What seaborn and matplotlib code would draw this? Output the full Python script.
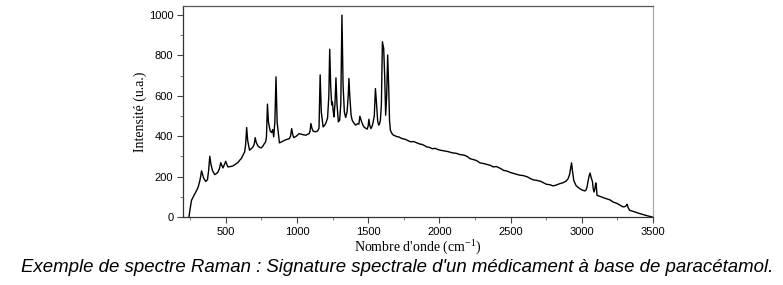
import matplotlib
matplotlib.use("Agg")
import matplotlib.pyplot as plt
from matplotlib.ticker import MultipleLocator
import seaborn as sns
import pandas as pd

# Raman spectrum: (wavenumber cm-1, intensity a.u.)
spectrum_low = [(242, 0), (250, 40), (260, 83), (272, 100), (284, 116), (296, 132), (307, 149),
                (319, 182), (325, 205), (330, 228), (336, 215), (345, 192), (360, 176), (372, 185),
                (380, 230), (388, 301), (396, 262), (408, 228), (423, 210), (435, 215), (446, 223),
                (456, 240), (465, 269), (473, 255), (481, 243), (490, 258), (500, 276), (508, 260),
                (516, 248), (535, 250), (551, 253), (562, 258), (574, 264), (586, 270), (598, 281),
                (610, 290), (621, 306), (633, 322), (640, 360), (647, 443), (654, 380), (667, 331),
                (680, 338), (691, 347), (700, 360), (707, 393), (715, 368), (726, 352), (738, 345),
                (749, 342), (760, 350), (772, 364), (780, 372), (786, 395), (793, 559), (800, 470),
                (812, 426), (822, 418), (830, 433), (837, 397), (845, 470), (853, 694), (861, 470),
                (877, 367), (900, 375), (923, 383), (935, 385), (946, 388), (955, 400), (963, 438),
                (970, 410), (977, 393), (995, 400), (1016, 413), (1040, 408), (1063, 405),
                (1075, 410), (1086, 413), (1092, 425), (1098, 463), (1105, 440), (1114, 425),
                (1130, 422), (1144, 425), (1155, 440)]
spectrum_fingerprint = [(1163, 704), (1171, 520), (1184, 446), (1195, 455), (1202, 463), (1215, 490),
                        (1224, 600), (1230, 831), (1237, 650), (1244, 555), (1249, 570), (1254, 530),
                        (1260, 496), (1267, 560), (1274, 689), (1281, 560), (1291, 471), (1300, 480),
                        (1308, 560), (1316, 1000), (1324, 650), (1333, 520), (1342, 493), (1352, 520),
                        (1360, 600), (1365, 686), (1371, 600), (1380, 505), (1388, 479), (1400, 465),
                        (1412, 455), (1425, 462), (1435, 460), (1442, 499), (1450, 480), (1460, 460),
                        (1470, 446), (1482, 440), (1493, 435), (1500, 450), (1505, 484), (1511, 455),
                        (1519, 438), (1527, 448), (1533, 463), (1543, 500), (1551, 636), (1559, 560),
                        (1567, 475), (1574, 455), (1580, 462), (1586, 479), (1593, 560), (1600, 868),
                        (1605, 850), (1609, 835), (1616, 700), (1623, 504), (1630, 600), (1637, 802),
                        (1644, 650), (1650, 480), (1656, 430), (1667, 413)]
spectrum_high = [(1678, 405), (1690, 402), (1700, 398), (1714, 397), (1724, 393), (1740, 388),
                 (1760, 385), (1780, 378), (1800, 372), (1818, 374), (1840, 368), (1860, 362),
                 (1880, 359), (1900, 352), (1911, 347), (1930, 345), (1950, 338), (1970, 340),
                 (1990, 334), (2005, 331), (2030, 328), (2060, 324), (2090, 318), (2120, 315),
                 (2145, 309), (2170, 307), (2195, 300), (2215, 289), (2240, 284), (2260, 280),
                 (2285, 268), (2310, 265), (2340, 259), (2360, 255), (2378, 248), (2400, 250),
                 (2430, 240), (2450, 231), (2472, 228), (2500, 220), (2530, 214), (2565, 207),
                 (2590, 205), (2620, 198), (2640, 190), (2659, 184), (2680, 182), (2710, 177),
                 (2730, 170), (2752, 162), (2775, 160), (2799, 154), (2820, 158), (2845, 165),
                 (2869, 170), (2890, 178), (2904, 190), (2914, 210), (2922, 245), (2928, 268),
                 (2934, 230), (2944, 180), (2960, 155), (2986, 140), (3005, 133), (3021, 129),
                 (3030, 134), (3037, 149), (3046, 185), (3052, 205), (3058, 218), (3064, 200),
                 (3075, 174), (3080, 140), (3086, 124), (3092, 140), (3098, 169), (3102, 150),
                 (3107, 107), (3125, 103), (3150, 96), (3175, 90), (3200, 84), (3220, 74),
                 (3245, 68), (3270, 58), (3290, 50), (3305, 52), (3312, 56), (3318, 63),
                 (3326, 45), (3336, 33), (3360, 28), (3385, 22), (3406, 17), (3430, 12),
                 (3460, 6), (3495, 0)]

tick_x = [500, 1000, 1500, 2000, 2500, 3000, 3500]
tick_y = [0, 200, 400, 600, 800, 1000]

points = spectrum_low + spectrum_fingerprint + spectrum_high
df = pd.DataFrame(points, columns=["wavenumber", "intensity"])

plt.rcParams["mathtext.fontset"] = "custom"
plt.rcParams["mathtext.rm"] = "Liberation Serif"

fig = plt.figure(figsize=(7.83, 2.85), dpi=100)
ax = fig.add_axes([0.2337, 0.2386, 0.6003, 0.7404])

sns.lineplot(data=df, x="wavenumber", y="intensity", ax=ax, color="black", linewidth=1.0, sort=False)

ax.set_xlim(200, 3500)
ax.set_ylim(0, 1045)
ax.set_xticks(tick_x)
ax.set_yticks(tick_y)
ax.xaxis.set_minor_locator(MultipleLocator(250))
ax.yaxis.set_minor_locator(MultipleLocator(100))
ax.tick_params(which="major", direction="out", length=4, width=0.8, labelsize=8, pad=3, color="#444444")
ax.tick_params(which="minor", direction="out", length=2, width=0.6, color="#666666")
for lab in ax.get_xticklabels() + ax.get_yticklabels():
    lab.set_fontfamily("Liberation Sans")

ax.spines["left"].set_color("#333333")
ax.spines["bottom"].set_color("#333333")
ax.spines["top"].set_color("#555555")
ax.spines["right"].set_color("#aaaaaa")
for s in ax.spines.values():
    s.set_linewidth(0.9)

ax.set_xlabel("Nombre d'onde (cm$^{\\mathrm{-1}}$)", fontfamily="Liberation Serif", fontsize=10, labelpad=0)
ax.set_ylabel("Intensité (u.a.)", fontfamily="Liberation Serif", fontsize=10, labelpad=1)

fig.text(0.5077, 0.06, "Exemple de spectre Raman : Signature spectrale d'un médicament à base de paracétamol.",
         ha="center", va="center", fontsize=13.4, style="italic", fontfamily="Liberation Sans")

fig.savefig("out.png", dpi=100)
